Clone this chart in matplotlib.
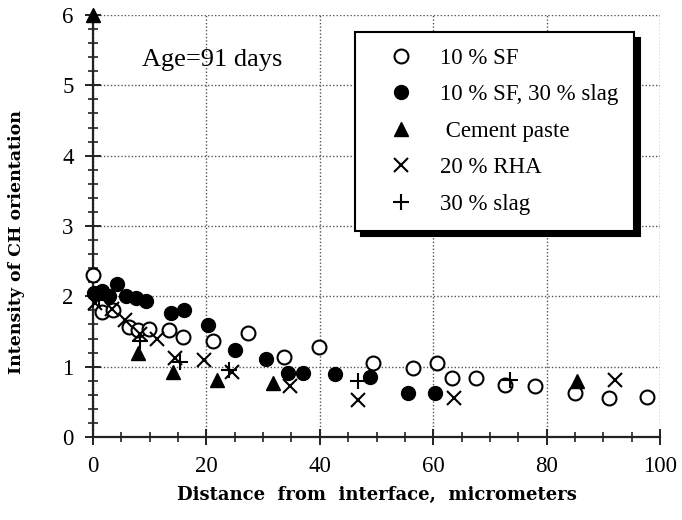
import matplotlib
matplotlib.use("Agg")
import matplotlib.pyplot as plt
from matplotlib.ticker import MultipleLocator

# Distance from interface (micrometers) and intensity of CH orientation, age 91 days
sf10_x = [0.0, 1.5, 3.5, 6.4, 8.0, 9.9, 13.4, 15.8, 21.1, 27.4, 33.6, 39.8,
          49.4, 56.5, 60.6, 63.4, 67.6, 72.7, 78.0, 85.0, 91.0, 97.7]
sf10_y = [2.30, 1.78, 1.80, 1.57, 1.52, 1.53, 1.52, 1.42, 1.36, 1.48, 1.14, 1.28,
          1.05, 0.98, 1.05, 0.84, 0.84, 0.74, 0.72, 0.63, 0.55, 0.57]

sf_slag_x = [0.2, 1.6, 2.9, 4.2, 5.9, 7.6, 9.4, 13.8, 16.0, 20.3, 25.0, 30.5,
             34.4, 37.1, 42.6, 48.9, 55.6, 60.3]
sf_slag_y = [2.05, 2.07, 2.00, 2.18, 2.00, 1.97, 1.93, 1.76, 1.80, 1.59, 1.24, 1.11,
             0.91, 0.91, 0.89, 0.86, 0.63, 0.63]

paste_x = [0.0, 7.9, 14.1, 21.8, 31.7, 85.3]
paste_y = [6.00, 1.20, 0.92, 0.81, 0.77, 0.79]

rha_x = [0.4, 3.3, 5.6, 8.3, 11.2, 14.5, 19.5, 24.5, 34.7, 46.8, 63.6, 92.1]
rha_y = [1.90, 1.82, 1.66, 1.47, 1.39, 1.12, 1.10, 0.93, 0.72, 0.53, 0.55, 0.81]

slag_x = [1.0, 8.3, 15.4, 24.0, 46.8, 73.5]
slag_y = [1.95, 1.36, 1.06, 0.95, 0.79, 0.81]

series_labels = ["10 % SF", "10 % SF, 30 % slag", " Cement paste", "20 % RHA", "30 % slag"]
age_text = "Age=91 days"
x_label = "Distance  from  interface,  micrometers"
y_label = "Intensity of CH orientation"

serif = ["Liberation Serif", "DejaVu Serif"]

fig = plt.figure(figsize=(6.82, 5.20), dpi=100)
ax = fig.add_axes([93 / 682, 1 - 437 / 520, 567 / 682, 422 / 520])

ax.set_xlim(0, 100)
ax.set_ylim(0, 6)

# dotted grid doubles as the top/right frame
ax.grid(True, which="major", linestyle=(0, (1, 1.5)), color="#555555", linewidth=1.0)
ax.set_axisbelow(True)
for side in ("top", "right"):
    ax.spines[side].set_visible(False)
for side in ("left", "bottom"):
    ax.spines[side].set_linewidth(1.6)
    ax.spines[side].set_color("#222222")

ax.xaxis.set_major_locator(MultipleLocator(20))
ax.xaxis.set_minor_locator(MultipleLocator(5))
ax.yaxis.set_major_locator(MultipleLocator(1))
ax.yaxis.set_minor_locator(MultipleLocator(0.2))
ax.tick_params(axis="both", which="major", direction="inout", length=12, width=1.4,
               color="#222222", labelsize=16.5, pad=8)
ax.tick_params(axis="both", which="minor", direction="inout", length=7, width=1.2,
               color="#222222")
for lab in ax.get_xticklabels() + ax.get_yticklabels():
    lab.set_fontfamily(serif)

ms = 10
h1, = ax.plot(sf10_x, sf10_y, linestyle="none", marker="o", ms=ms, mfc="white",
              mec="black", mew=1.5, clip_on=False, zorder=3)
h2, = ax.plot(sf_slag_x, sf_slag_y, linestyle="none", marker="o", ms=ms, mfc="black",
              mec="black", clip_on=False, zorder=4)
h3, = ax.plot(paste_x, paste_y, linestyle="none", marker="^", ms=9.5, mfc="black",
              mec="black", clip_on=False, zorder=5)
h4, = ax.plot(rha_x, rha_y, linestyle="none", marker="x", ms=10, mec="black",
              mew=1.5, clip_on=False, zorder=5)
h5, = ax.plot(slag_x, slag_y, linestyle="none", marker="+", ms=11, mec="black",
              mew=1.5, clip_on=False, zorder=5)

fig.text(212 / 682, 1 - 60 / 520, age_text, fontsize=19, family=serif,
         ha="center", va="center")

ax.set_xlabel(x_label, fontsize=13, fontweight="bold", family=["DejaVu Serif"],
              labelpad=6)
ax.set_ylabel(y_label, fontsize=12.5, fontweight="bold", family=["DejaVu Serif"])
ax.yaxis.set_label_coords(-0.12, 0.462)

leg = fig.legend([h1, h2, h3, h4, h5], series_labels,
                 loc="upper left", bbox_to_anchor=(355 / 682, 1 - 32 / 520),
                 prop={"family": serif, "size": 16.5},
                 frameon=True, fancybox=False, edgecolor="black", framealpha=1,
                 borderpad=0.7, labelspacing=0.67, handlelength=2.6,
                 handletextpad=0.4, borderaxespad=0,
                 shadow={"color": "black", "alpha": 1, "ox": 4, "oy": -4})
leg.get_frame().set_linewidth(1.5)

fig.savefig("out.png", dpi=100)
